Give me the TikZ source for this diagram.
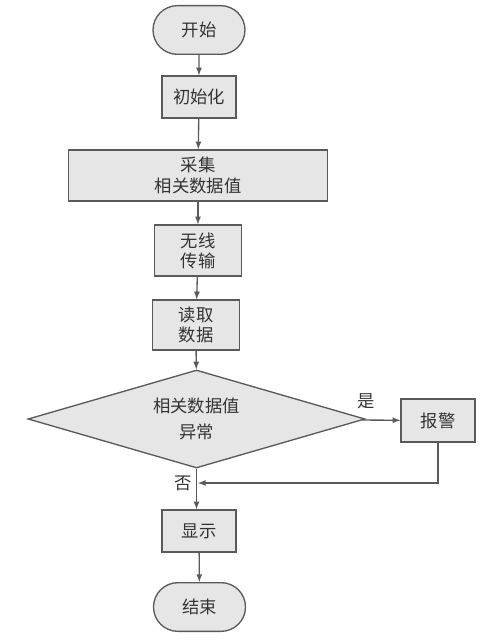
\documentclass[tikz,border=0pt]{standalone}
\usepackage{fontspec}
\newfontfamily\cjk{Noto Sans CJK SC}
\usetikzlibrary{shapes.geometric,shapes.misc}
\definecolor{boxfill}{HTML}{E6E6E6}
\definecolor{boxline}{HTML}{5A5A5A}
\definecolor{textgray}{HTML}{333333}
\tikzset{
  base/.style={draw=boxline,fill=boxfill,line width=1pt,text=textgray,
    font=\cjk\fontsize{13}{15}\selectfont,align=center,inner sep=0pt},
  term/.style={base,rounded rectangle,minimum width=69pt,minimum height=36.5pt},
  proc/.style={base,rectangle,minimum width=55.5pt,minimum height=31.5pt},
  judge/.style={base,diamond,aspect=3.44,minimum width=252.75pt,minimum height=73.5pt},
  flow/.style={draw=boxline,line width=1pt,-latex},
  lbl/.style={text=textgray,font=\cjk\fontsize{13}{15}\selectfont}
}
\begin{document}
\begin{tikzpicture}[x=0.75pt,y=-0.75pt]
  \useasboundingbox (0,0) rectangle (497,641);
  \node[term] (start) at (199,30) {开始};
  \node[proc] (init) at (199,97) {初始化};
  \node[proc,minimum width=194.25pt,minimum height=38.25pt] (collect) at (198,175.5) {采集\\[1pt]相关数据值};
  \node[proc,minimum width=65.25pt,minimum height=38.25pt] (send) at (198,250.5) {无线\\传输};
  \node[proc,minimum width=65.25pt,minimum height=37.5pt] (read) at (196,325) {读取\\数据};
  \node[judge] (check) at (196.5,419) {相关数据值\\[5pt]异常};
  \node[proc,minimum height=32.25pt] (alarm) at (438,420.5) {报警};
  \node[proc] (show) at (199,531) {显示};
  \node[term] (stop) at (199.5,607) {结束};
  \coordinate (join) at (198,483);

  \draw[flow] (start) -- (init);
  \draw[flow] (init) -- (collect);
  \draw[flow] (collect) -- (send);
  \draw[flow] (send) -- (read);
  \draw[flow] (read) -- (check);
  \draw[flow] (check) -- (alarm);
  \draw[flow] (check.south) -- (show.north -| check.south);
  \draw[flow] (alarm) |- (join);
  \draw[flow] (show) -- (stop);

  \node[lbl] (yes) at (366,401) {是};
  \node[lbl] (no) at (183,483) {否};
\end{tikzpicture}
\end{document}
